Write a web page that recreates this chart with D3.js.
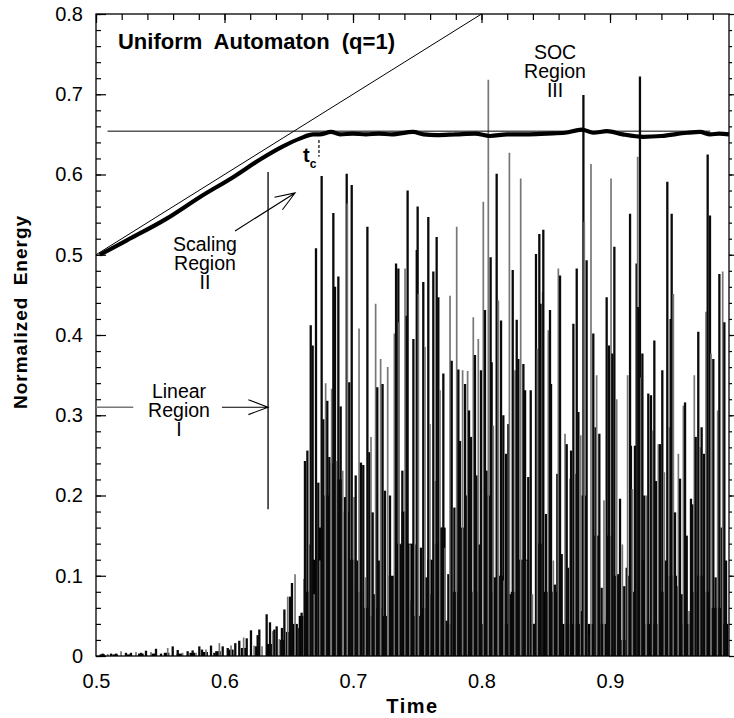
<!DOCTYPE html>
<html>
<head>
<meta charset="utf-8">
<script src="https://cdn.jsdelivr.net/npm/d3@7"></script>
<style>
  body { margin: 0; background: #fff; }
  text { font-family: "Liberation Sans", Arial, Helvetica, sans-serif; }
</style>
</head>
<body>
<svg id="chart" width="734" height="718"></svg>
<script>
// ---- data ----
const xTickValues = [0.5, 0.6, 0.7, 0.8, 0.9];
const xTickLabels = ["0.5", "0.6", "0.7", "0.8", "0.9"];
const yTickValues = [0, 0.1, 0.2, 0.3, 0.4, 0.5, 0.6, 0.7, 0.8];
const yTickLabels = ["0", "0.1", "0.2", "0.3", "0.4", "0.5", "0.6", "0.7", "0.8"];

// normalized energy curve [time, energy]
const energyCurve = [
  [0.503, 0.500], [0.524, 0.518], [0.555, 0.545], [0.581, 0.572], [0.607, 0.597],
  [0.628, 0.619], [0.6455, 0.635], [0.659, 0.645], [0.669, 0.650], [0.674, 0.650],
  [0.683, 0.653], [0.690, 0.650], [0.700, 0.651], [0.710, 0.650], [0.720, 0.651],
  [0.730, 0.650], [0.7467, 0.653], [0.755, 0.650], [0.765, 0.649], [0.780, 0.650],
  [0.795, 0.651], [0.8066, 0.648], [0.820, 0.650], [0.835, 0.650], [0.851, 0.651],
  [0.865, 0.652], [0.878, 0.656], [0.887, 0.652], [0.8977, 0.654], [0.910, 0.650],
  [0.9257, 0.647], [0.940, 0.648], [0.960, 0.652], [0.970, 0.653], [0.978, 0.650],
  [0.985, 0.651], [0.9926, 0.650]
];

// reference lines
const linearFit = [[0.5, 0.5], [0.8, 0.8]];
const plateauLevel = [[0.509, 0.654], [0.978, 0.654]];

// dense small-avalanche floor [time, energy]
const avalancheFloor = [
  [0.505, 0.002], [0.515, 0.002], [0.525, 0.002], [0.535, 0.003], [0.545, 0.003],
  [0.555, 0.004], [0.565, 0.003], [0.575, 0.004], [0.585, 0.005], [0.595, 0.006],
  [0.605, 0.008], [0.615, 0.010], [0.625, 0.012], [0.635, 0.015], [0.645, 0.020],
  [0.650, 0.03], [0.655, 0.04], [0.660, 0.05], [0.665, 0.08], [0.670, 0.12],
  [0.675, 0.16], [0.680, 0.20], [0.685, 0.24], [0.690, 0.22], [0.695, 0.18],
  [0.700, 0.12], [0.705, 0.08], [0.710, 0.06], [0.715, 0.05], [0.720, 0.06],
  [0.725, 0.05], [0.730, 0.10], [0.735, 0.14], [0.740, 0.18], [0.745, 0.14],
  [0.750, 0.05], [0.755, 0.06], [0.760, 0.12], [0.765, 0.14], [0.770, 0.16],
  [0.775, 0.04], [0.780, 0.08], [0.785, 0.16], [0.790, 0.18], [0.795, 0.08],
  [0.800, 0.04], [0.805, 0.20], [0.810, 0.08], [0.815, 0.10], [0.820, 0.04],
  [0.825, 0.08], [0.830, 0.12], [0.835, 0.12], [0.840, 0.04], [0.845, 0.14],
  [0.850, 0.08], [0.855, 0.08], [0.860, 0.08], [0.865, 0.04], [0.870, 0.04],
  [0.875, 0.04], [0.880, 0.20], [0.885, 0.04], [0.890, 0.15], [0.895, 0.04],
  [0.900, 0.15], [0.905, 0.10], [0.910, 0.02], [0.915, 0.10], [0.920, 0.08],
  [0.925, 0.12], [0.930, 0.04], [0.935, 0.04], [0.940, 0.08], [0.945, 0.10],
  [0.950, 0.10], [0.955, 0.04], [0.960, 0.04], [0.965, 0.08], [0.970, 0.10],
  [0.975, 0.08], [0.980, 0.06], [0.985, 0.06], [0.990, 0.04]
];

// individual avalanche spikes [time, energy]
const avalancheSpikes = [
  [0.5052, 0.003], [0.5091, 0.0025], [0.5117, 0.003], [0.5156, 0.003], [0.5195, 0.006],
  [0.5233, 0.004], [0.5272, 0.004], [0.5311, 0.005], [0.535, 0.004], [0.5389, 0.0066],
  [0.5428, 0.005], [0.5467, 0.009], [0.5506, 0.003], [0.5558, 0.010], [0.5597, 0.012],
  [0.5636, 0.0075], [0.5674, 0.004], [0.5713, 0.006], [0.5752, 0.007], [0.5778, 0.004],
  [0.5804, 0.012], [0.5825, 0.008], [0.5856, 0.008], [0.5895, 0.013], [0.5921, 0.004],
  [0.596, 0.016], [0.5986, 0.012], [0.6025, 0.010], [0.6051, 0.013], [0.6084, 0.016],
  [0.6115, 0.019], [0.6149, 0.023], [0.6173, 0.022], [0.6206, 0.032], [0.6232, 0.013],
  [0.6258, 0.026], [0.6271, 0.033], [0.6292, 0.012], [0.6328, 0.052], [0.6354, 0.042],
  [0.6375, 0.031], [0.6388, 0.033], [0.6406, 0.037], [0.6427, 0.021], [0.6447, 0.035],
  [0.6466, 0.058], [0.6492, 0.074], [0.651, 0.074], [0.6525, 0.091], [0.6549, 0.102],
  [0.6582, 0.035], [0.66, 0.054], [0.6619, 0.096], [0.6626, 0.243], [0.6645, 0.256],
  [0.666, 0.139], [0.6671, 0.412], [0.6686, 0.387], [0.6699, 0.077], [0.6712, 0.508],
  [0.673, 0.216], [0.6743, 0.119], [0.6756, 0.598], [0.6769, 0.295], [0.6787, 0.34],
  [0.68, 0.318], [0.6816, 0.248], [0.6834, 0.333], [0.6847, 0.552], [0.686, 0.46],
  [0.6873, 0.243], [0.6886, 0.473], [0.6904, 0.311], [0.692, 0.231], [0.6938, 0.198],
  [0.6951, 0.601], [0.6956, 0.564], [0.6971, 0.341], [0.699, 0.587], [0.7008, 0.198],
  [0.7021, 0.225], [0.7034, 0.119], [0.7047, 0.408], [0.7062, 0.241], [0.708, 0.238],
  [0.7096, 0.098], [0.7112, 0.535], [0.7127, 0.254], [0.714, 0.273], [0.7153, 0.179],
  [0.7163, 0.077], [0.7176, 0.439], [0.7189, 0.335], [0.7202, 0.119], [0.7215, 0.37],
  [0.723, 0.339], [0.7249, 0.206], [0.727, 0.36], [0.7288, 0.2], [0.7303, 0.098],
  [0.7322, 0.402], [0.7335, 0.489], [0.7353, 0.483], [0.7358, 0.416], [0.7373, 0.139],
  [0.7384, 0.231], [0.7405, 0.483], [0.7418, 0.424], [0.7425, 0.58], [0.7443, 0.139],
  [0.7457, 0.069], [0.747, 0.395], [0.7488, 0.139], [0.7496, 0.506], [0.7503, 0.56],
  [0.7509, 0.451], [0.7529, 0.135], [0.7547, 0.466], [0.756, 0.385], [0.7573, 0.098],
  [0.7586, 0.547], [0.7599, 0.289], [0.7612, 0.077], [0.7625, 0.479], [0.7638, 0.218],
  [0.7651, 0.522], [0.7664, 0.447], [0.7677, 0.331], [0.769, 0.16], [0.7703, 0.352],
  [0.7716, 0.135], [0.7729, 0.044], [0.7742, 0.102], [0.7755, 0.449], [0.7768, 0.368],
  [0.7789, 0.185], [0.7807, 0.535], [0.782, 0.357], [0.7833, 0.268], [0.7853, 0.356],
  [0.7872, 0.339], [0.7882, 0.2], [0.7892, 0.355], [0.7903, 0.306], [0.7918, 0.273],
  [0.7936, 0.422], [0.7949, 0.375], [0.7962, 0.225], [0.7975, 0.395], [0.7986, 0.139],
  [0.7996, 0.356], [0.8014, 0.566], [0.8027, 0.431], [0.804, 0.231], [0.8053, 0.718],
  [0.8071, 0.497], [0.8079, 0.366], [0.8092, 0.287], [0.8105, 0.098], [0.8118, 0.601],
  [0.8131, 0.443], [0.8152, 0.418], [0.817, 0.3], [0.8175, 0.094], [0.8191, 0.252],
  [0.8209, 0.289], [0.8217, 0.627], [0.8227, 0.077], [0.8243, 0.481], [0.8261, 0.356],
  [0.8274, 0.419], [0.8287, 0.37], [0.8305, 0.595], [0.8326, 0.364], [0.8339, 0.331],
  [0.8352, 0.119], [0.8364, 0.223], [0.8383, 0.331], [0.8396, 0.077], [0.8409, 0.04],
  [0.8424, 0.501], [0.8435, 0.383], [0.845, 0.526], [0.846, 0.439], [0.8476, 0.454],
  [0.8481, 0.531], [0.8502, 0.177], [0.852, 0.406], [0.8533, 0.431], [0.8541, 0.339],
  [0.8559, 0.119], [0.8572, 0.089], [0.859, 0.227], [0.8598, 0.483], [0.8611, 0.474],
  [0.8624, 0.127], [0.865, 0.277], [0.8663, 0.264], [0.8676, 0.11], [0.8689, 0.221],
  [0.8697, 0.256], [0.8715, 0.414], [0.8728, 0.227], [0.8741, 0.483], [0.8754, 0.304],
  [0.8772, 0.275], [0.8782, 0.056], [0.8793, 0.699], [0.88, 0.541], [0.8818, 0.493],
  [0.8837, 0.027], [0.8852, 0.613], [0.887, 0.402], [0.8888, 0.285], [0.8896, 0.35],
  [0.8917, 0.277], [0.8935, 0.085], [0.8953, 0.194], [0.8974, 0.447], [0.8992, 0.387],
  [0.9008, 0.595], [0.9018, 0.377], [0.9034, 0.51], [0.9052, 0.32], [0.9065, 0.102],
  [0.9078, 0.196], [0.9096, 0.139], [0.9111, 0.087], [0.913, 0.11], [0.9137, 0.35],
  [0.9156, 0.551], [0.9163, 0.262], [0.9174, 0.208], [0.9194, 0.262], [0.9207, 0.489],
  [0.9215, 0.622], [0.922, 0.435], [0.9233, 0.722], [0.9241, 0.347], [0.9252, 0.377],
  [0.9267, 0.2], [0.9285, 0.2], [0.9298, 0.327], [0.9319, 0.325], [0.9332, 0.281],
  [0.9345, 0.393], [0.9358, 0.218], [0.9376, 0.264], [0.9389, 0.264], [0.9407, 0.356],
  [0.9423, 0.229], [0.9436, 0.119], [0.9446, 0.591], [0.9459, 0.285], [0.9472, 0.42],
  [0.948, 0.551], [0.9493, 0.451], [0.9506, 0.179], [0.9519, 0.087], [0.9532, 0.252],
  [0.9545, 0.221], [0.9558, 0.077], [0.9571, 0.312], [0.9584, 0.316], [0.9597, 0.15],
  [0.9615, 0.056], [0.963, 0.196], [0.9641, 0.189], [0.9656, 0.35], [0.9667, 0.273],
  [0.9687, 0.404], [0.97, 0.26], [0.9713, 0.285], [0.9731, 0.252], [0.9747, 0.429],
  [0.976, 0.625], [0.9778, 0.549], [0.9786, 0.377], [0.9804, 0.37], [0.9822, 0.098],
  [0.9838, 0.306], [0.9851, 0.476], [0.9869, 0.16], [0.9877, 0.479], [0.989, 0.416],
  [0.9903, 0.119]
];

// ---- layout ----
const svg = d3.select('#chart');
const x = d3.scaleLinear().domain([0.5, 0.9926]).range([96, 729]);
const y = d3.scaleLinear().domain([0, 0.8]).range([656, 14]);
const xMinor = d3.range(0.5, 0.99, 0.02);
const yMinor = d3.range(0, 0.801, 0.02);

const plot = svg.append('g').attr('class', 'plot');

// avalanche floor
plot.selectAll('rect.floor')
  .data(avalancheFloor)
  .enter().append('rect')
    .attr('class', 'floor')
    .attr('x', d => x(d[0]) - 2.9)
    .attr('width', 5.6)
    .attr('y', d => y(d[1]))
    .attr('height', d => y(0) - y(d[1]))
    .attr('fill', '#000');

// spikes
plot.selectAll('line.spike')
  .data(avalancheSpikes)
  .enter().append('line')
    .attr('class', 'spike')
    .attr('x1', d => x(d[0]))
    .attr('x2', d => x(d[0]))
    .attr('y1', y(0))
    .attr('y2', d => y(d[1]))
    .attr('stroke', (d, i) => i % 3 === 1 ? '#777' : '#0a0a0a')
    .attr('stroke-width', (d, i) => i % 3 === 1 ? 1.7 : 2.3);

const line = d3.line().x(d => x(d[0])).y(d => y(d[1]));

plot.append('path')
  .attr('d', line(linearFit))
  .attr('fill', 'none')
  .attr('stroke', '#000')
  .attr('stroke-width', 1);

plot.append('path')
  .attr('d', line(plateauLevel))
  .attr('fill', 'none')
  .attr('stroke', '#000')
  .attr('stroke-width', 1);

plot.append('path')
  .attr('d', line.curve(d3.curveMonotoneX)(energyCurve))
  .attr('fill', 'none')
  .attr('stroke', '#000')
  .attr('stroke-width', 4.2)
  .attr('stroke-linejoin', 'round');

// ---- axes ----
function styleAxis(g) {
  g.select('.domain').remove();
  g.selectAll('.tick line').attr('stroke', '#000').attr('stroke-width', 1.2);
  g.selectAll('.tick text').attr('fill', '#000').attr('font-size', 20);
}

svg.append('g').attr('transform', 'translate(96,0)')
  .call(d3.axisLeft(y).tickValues(yMinor).tickSize(-5).tickFormat(''))
  .call(styleAxis);
svg.append('g').attr('transform', 'translate(96,0)')
  .call(d3.axisLeft(y).tickValues(yTickValues).tickSize(-10).tickPadding(13)
    .tickFormat((d, i) => yTickLabels[i]))
  .call(styleAxis);

svg.append('g').attr('transform', 'translate(729,0)')
  .call(d3.axisRight(y).tickValues(yMinor).tickSize(3).tickFormat(''))
  .call(styleAxis);
svg.append('g').attr('transform', 'translate(729,0)')
  .call(d3.axisRight(y).tickValues(yTickValues).tickSize(6).tickFormat(''))
  .call(styleAxis);

svg.append('g').attr('transform', 'translate(0,14)')
  .call(d3.axisTop(x).tickValues(xMinor).tickSize(-6).tickFormat(''))
  .call(styleAxis);
svg.append('g').attr('transform', 'translate(0,14)')
  .call(d3.axisTop(x).tickValues(xTickValues).tickSize(-9).tickFormat(''))
  .call(styleAxis);

svg.append('g').attr('transform', 'translate(0,656)')
  .call(d3.axisBottom(x).tickValues(xTickValues).tickSize(0).tickPadding(18)
    .tickFormat((d, i) => xTickLabels[i]))
  .call(styleAxis);

// frame
svg.append('rect')
  .attr('x', x(0.5)).attr('y', y(0.8))
  .attr('width', x(0.9926) - x(0.5))
  .attr('height', y(0) - y(0.8))
  .attr('fill', 'none')
  .attr('stroke', '#000')
  .attr('stroke-width', 1.3);

// axis titles
svg.append('text')
  .attr('x', (x(0.5) + x(0.9926)) / 2)
  .attr('y', 713)
  .attr('text-anchor', 'middle')
  .attr('font-size', 20)
  .attr('font-weight', 'bold')
  .attr('letter-spacing', 1.5)
  .text('Time');

svg.append('text')
  .attr('transform', 'translate(27,312) rotate(-90)')
  .attr('text-anchor', 'middle')
  .attr('font-size', 19)
  .attr('font-weight', 'bold')
  .attr('letter-spacing', 1)
  .attr('word-spacing', 5)
  .text('Normalized Energy');

// ---- annotations ----
const ann = svg.append('g').attr('class', 'annotations');

ann.append('text')
  .attr('x', x(0.5171)).attr('y', y(0.7564))
  .attr('font-size', 22)
  .attr('font-weight', 'bold')
  .attr('word-spacing', 6)
  .text('Uniform Automaton (q=1)');

function block(lines, t, e, lh) {
  const g = ann.append('text')
    .attr('text-anchor', 'middle')
    .attr('font-size', 19.5);
  lines.forEach((s, i) => {
    g.append('tspan').attr('x', x(t)).attr('y', y(e) + i * lh).text(s);
  });
}
block(['SOC', 'Region', 'III'], 0.8572, 0.744, 19.2);
block(['Scaling', 'Region', 'II'], 0.5848, 0.505, 18.9);
block(['Linear', 'Region', 'I'], 0.5646, 0.3215, 19);

// region I / II boundary
ann.append('line')
  .attr('x1', x(0.6339)).attr('x2', x(0.6339))
  .attr('y1', y(0.183)).attr('y2', y(0.603))
  .attr('stroke', '#000').attr('stroke-width', 1.3);

function arrow(t0, e0, t1, e1) {
  const x0 = x(t0), y0 = y(e0), x1 = x(t1), y1 = y(e1);
  const a = Math.atan2(y1 - y0, x1 - x0), L = 21, w = 0.36;
  const p = d3.path();
  p.moveTo(x0, y0); p.lineTo(x1, y1);
  p.moveTo(x1 - L * Math.cos(a - w), y1 - L * Math.sin(a - w));
  p.lineTo(x1, y1);
  p.lineTo(x1 - L * Math.cos(a + w), y1 - L * Math.sin(a + w));
  ann.append('path').attr('d', p.toString())
    .attr('fill', 'none').attr('stroke', '#000').attr('stroke-width', 1.1);
}
arrow(0.598, 0.31, 0.6339, 0.31);
arrow(0.6082, 0.5296, 0.6549, 0.577);

// short grey marker at the linear region level
ann.append('line')
  .attr('x1', x(0.5)).attr('x2', x(0.529))
  .attr('y1', y(0.31)).attr('y2', y(0.31))
  .attr('stroke', '#777').attr('stroke-width', 1.5);

// t_c marker
ann.append('line')
  .attr('x1', x(0.6735)).attr('x2', x(0.6735))
  .attr('y1', y(0.643)).attr('y2', y(0.622))
  .attr('stroke', '#000').attr('stroke-width', 1.2)
  .attr('stroke-dasharray', '3,2');

const tc = ann.append('text')
  .attr('x', x(0.6611)).attr('y', y(0.6156))
  .attr('font-weight', 'bold')
  .attr('font-size', 20);
tc.append('tspan').text('t');
tc.append('tspan').attr('font-size', 12).attr('dy', 6).text('c');
</script>
</body>
</html>
